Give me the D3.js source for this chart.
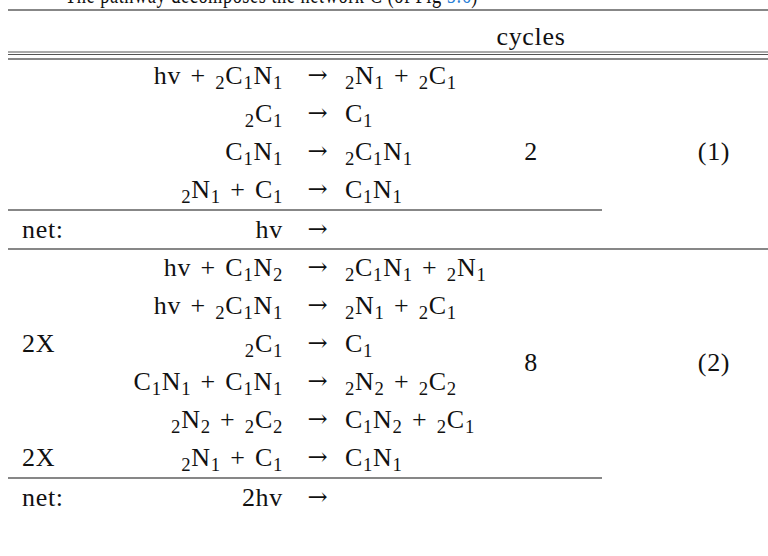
<!DOCTYPE html>
<html>
<head>
<meta charset="utf-8">
<script src="https://cdn.jsdelivr.net/npm/d3@7/dist/d3.min.js"></script>
<style>
  html, body { margin: 0; padding: 0; background: #fff; }
  svg { display: block; }
  text { font-family: "Liberation Serif", "DejaVu Serif", serif; fill: #111; letter-spacing: 0.7px; }
</style>
</head>
<body>
<svg id="chart" width="768" height="556"></svg>
<script>
// ---- data ----
const captionText = "The pathway decomposes the network C (of Fig ";
const captionLink = "5.6";
const headerCycles = "cycles";

const block1Labels = ["", "", "", ""];
const block1Lhs = ["hv + _2C_1N_1", "_2C_1", "C_1N_1", "_2N_1 + C_1"];
const block1Rhs = ["_2N_1 + _2C_1", "C_1", "_2C_1N_1", "C_1N_1"];
const net1Lhs = "hv";

const block2Labels = ["", "", "2X", "", "", "2X"];
const block2Lhs = ["hv + C_1N_2", "hv + _2C_1N_1", "_2C_1", "C_1N_1 + C_1N_1", "_2N_2 + _2C_2", "_2N_1 + C_1"];
const block2Rhs = ["_2C_1N_1 + _2N_1", "_2N_1 + _2C_1", "C_1", "_2N_2 + _2C_2", "C_1N_2 + _2C_1", "C_1N_1"];
const net2Lhs = "2hv";

const cyclesValues = ["2", "8"];
const eqNumbers = ["(1)", "(2)"];

// ---- layout ----
const W = 768, H = 556;
const FS = 26;
const svg = d3.select("#chart");

const rows = [];
block1Lhs.forEach((l, i) => rows.push({label: block1Labels[i], lhs: l, rhs: block1Rhs[i]}));
rows.push({label: "net:", lhs: net1Lhs, rhs: ""});
block2Lhs.forEach((l, i) => rows.push({label: block2Labels[i], lhs: l, rhs: block2Rhs[i]}));
rows.push({label: "net:", lhs: net2Lhs, rhs: ""});

const yBase = d3.scaleLinear().domain([0, rows.length - 1]).range([76, 76 + 38 * (rows.length - 1)]);
const extra = [0, 0, 0, 0, 2, 2, 2, 2, 2, 2, 2, 4];
const yRow = i => yBase(i) + extra[i];

const x = d3.scaleOrdinal()
  .domain(["label", "lhs", "arrow", "rhs", "cycles", "eq"])
  .range([22, 283, 318, 345, 531, 714]);

function addRich(sel, str) {
  const parts = [];
  let i = 0, buf = "";
  while (i < str.length) {
    if (str[i] === "_" && i + 1 < str.length) {
      if (buf) { parts.push({t: buf, sub: false}); buf = ""; }
      parts.push({t: str[i + 1], sub: true});
      i += 2;
    } else { buf += str[i]; i++; }
  }
  if (buf) parts.push({t: buf, sub: false});
  let shifted = false;
  parts.forEach(p => {
    const ts = sel.append("tspan").text(p.t.replace(/ /g, "\u2004"));
    if (p.sub) {
      ts.attr("font-size", FS * 0.72).attr("dy", shifted ? 0 : 5);
      shifted = true;
    } else {
      ts.attr("dy", shifted ? -5 : 0);
      shifted = false;
    }
  });
}

const baseOff = 8;

// caption, clipped by the top edge as in the source
const cap = svg.append("text").attr("x", 65).attr("y", 3).attr("font-size", FS)
  .attr("textLength", 413).attr("lengthAdjust", "spacingAndGlyphs");
cap.append("tspan").text(captionText);
cap.append("tspan").text(captionLink).style("fill", "#2b7fd6");
cap.append("tspan").text(")");

svg.append("text").attr("x", x("cycles")).attr("y", 37 + baseOff)
  .attr("text-anchor", "middle").attr("font-size", FS).text(headerCycles);

const rules = [
  {y: 10, x1: 8, x2: W, w: 1.1, c: "#111"},
  {y: 52, x1: 8, x2: W, w: 1, c: "#555"},
  {y: 54.5, x1: 8, x2: W, w: 1, c: "#555"},
  {y: 59, x1: 8, x2: W, w: 1.2, c: "#111"},
  {y: (yRow(3) + yRow(4)) / 2, x1: 8, x2: 602, w: 1.2, c: "#111"},
  {y: (yRow(4) + yRow(5)) / 2, x1: 8, x2: W, w: 1.2, c: "#111"},
  {y: (yRow(10) + yRow(11)) / 2, x1: 8, x2: 602, w: 1.2, c: "#111"}
];
svg.selectAll("line.rule").data(rules).join("line").attr("class", "rule")
  .attr("x1", d => d.x1).attr("x2", d => d.x2)
  .attr("y1", d => d.y).attr("y2", d => d.y)
  .attr("stroke", d => d.c).attr("stroke-width", d => d.w);

const g = svg.selectAll("g.row").data(rows).join("g").attr("class", "row")
  .attr("transform", (d, i) => `translate(0,${yRow(i) + baseOff})`);

g.append("text").attr("x", x("label")).attr("font-size", FS).text(d => d.label);
g.append("text").attr("x", x("lhs")).attr("text-anchor", "end").attr("font-size", FS)
  .each(function(d) { addRich(d3.select(this), d.lhs); });
g.append("text").attr("x", x("arrow")).attr("text-anchor", "middle")
  .attr("font-size", 24).style("font-family", "'DejaVu Serif', serif").style("font-weight", 300)
  .attr("dy", -1).text("\u2192");
g.append("text").attr("x", x("rhs")).attr("font-size", FS)
  .each(function(d) { addRich(d3.select(this), d.rhs); });

const blockMid = [yRow(2), (yRow(7) + yRow(8)) / 2];
svg.selectAll("text.cyc").data(cyclesValues).join("text").attr("class", "cyc")
  .attr("x", x("cycles")).attr("y", (d, i) => blockMid[i] + baseOff)
  .attr("text-anchor", "middle").attr("font-size", FS).text(d => d);
svg.selectAll("text.eq").data(eqNumbers).join("text").attr("class", "eq")
  .attr("x", x("eq")).attr("y", (d, i) => blockMid[i] + baseOff)
  .attr("text-anchor", "middle").attr("font-size", FS).text(d => d);
</script>
</body>
</html>
